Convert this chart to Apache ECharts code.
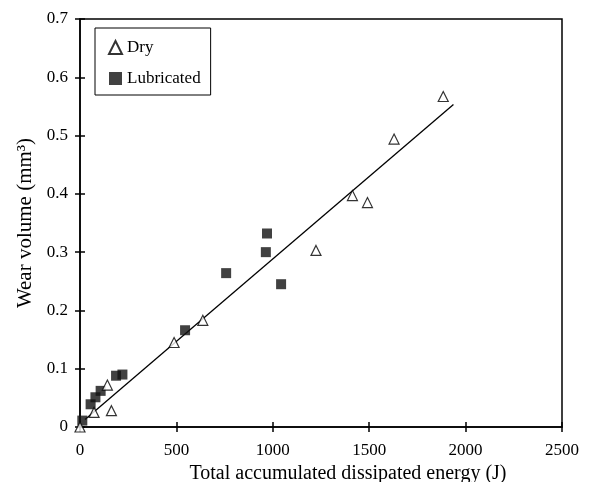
<!DOCTYPE html>
<html>
<head>
<meta charset="utf-8">
<script src="https://cdn.jsdelivr.net/npm/echarts@6/dist/echarts.min.js"></script>
<style>
  html, body { margin: 0; padding: 0; background: #fff; }
  #chart { width: 602px; height: 482px; }
</style>
</head>
<body>
<div id="chart"></div>
<script>
// points: [energy (J), wear volume (mm3)]
var dryData = [
    [0, 0], [73, 0.025], [142, 0.072], [163, 0.028], [488, 0.145],
    [637, 0.183], [1224, 0.303], [1413, 0.397], [1491, 0.385],
    [1629, 0.494], [1884, 0.567]
];
var lubData = [
    [12, 0.011], [55, 0.039], [80, 0.051], [107, 0.062], [187, 0.088],
    [220, 0.090], [545, 0.166], [758, 0.264], [964, 0.300], [970, 0.332],
    [1043, 0.245]
];
// fitted line end points
var fitLine = [[26, 0.0127], [1937, 0.5535]];

var xTicks = [0, 500, 1000, 1500, 2000, 2500];
var yTicks = [0, 0.1, 0.2, 0.3, 0.4, 0.5, 0.6, 0.7];

var serif = 'Liberation Serif';

var myChart = echarts.init(document.getElementById('chart'));

function baseX(inside) {
    return {
        type: 'value', min: xTicks[0], max: xTicks[xTicks.length - 1], interval: 500,
        position: 'bottom',
        axisLine: { show: !inside, onZero: false, lineStyle: { color: '#000', width: 1.5 } },
        axisTick: { show: true, inside: inside, length: 5, lineStyle: { color: '#000', width: 1.5 } },
        axisLabel: {
            show: !inside, color: '#000', fontFamily: serif, fontSize: 17, margin: 15,
            formatter: function (v) { return String(v); }
        },
        splitLine: { show: false }
    };
}
function baseY(inside) {
    return {
        type: 'value', min: yTicks[0], max: yTicks[yTicks.length - 1], interval: 0.1,
        position: 'left',
        axisLine: { show: !inside, onZero: false, lineStyle: { color: '#000', width: 1.5 } },
        axisTick: { show: true, inside: inside, length: 5, lineStyle: { color: '#000', width: 1.5 } },
        axisLabel: {
            show: !inside, color: '#000', fontFamily: serif, fontSize: 17, margin: 12,
            formatter: function (v) { return v === 0 ? '0' : v.toFixed(1); }
        },
        splitLine: { show: false }
    };
}

var xMain = baseX(false);
xMain.name = 'Total accumulated dissipated energy (J)';
xMain.nameLocation = 'middle';
xMain.nameGap = 34;
xMain.nameTextStyle = { color: '#000', fontFamily: serif, fontSize: 20, padding: [0, 0, 0, 54] };

var yMain = baseY(false);
yMain.name = 'Wear volume (mm³)';
yMain.nameLocation = 'middle';
yMain.nameGap = 44;
yMain.nameTextStyle = { color: '#000', fontFamily: serif, fontSize: 21 };

var option = {
    backgroundColor: '#fff',
    animation: false,
    grid: {
        left: 80, right: 40, top: 19, bottom: 55,
        outerBoundsMode: 'none', containLabel: false,
        show: true, borderColor: '#000', borderWidth: 1.5, backgroundColor: 'transparent'
    },
    legend: {
        orient: 'vertical',
        left: 95, top: 28,
        padding: [11, 10, 8, 13],
        itemGap: 14,
        itemWidth: 13, itemHeight: 13,
        borderColor: '#000', borderWidth: 1,
        textStyle: { color: '#000', fontFamily: serif, fontSize: 17 },
        data: ['Dry', 'Lubricated']
    },
    xAxis: [xMain, baseX(true)],
    yAxis: [yMain, baseY(true)],
    series: [
        {
            name: 'fit', type: 'line', data: fitLine,
            showSymbol: false, symbol: 'none',
            lineStyle: { color: '#000', width: 1.3 },
            z: 1
        },
        {
            name: 'Dry', type: 'scatter', data: dryData,
            symbol: 'triangle', symbolSize: 10,
            itemStyle: { color: '#fff', borderColor: '#000', borderWidth: 1.2 },
            z: 3
        },
        {
            name: 'Lubricated', type: 'scatter', data: lubData,
            symbol: 'rect', symbolSize: 10,
            itemStyle: { color: '#111' },
            z: 2
        }
    ]
};

myChart.setOption(option);
</script>
</body>
</html>
